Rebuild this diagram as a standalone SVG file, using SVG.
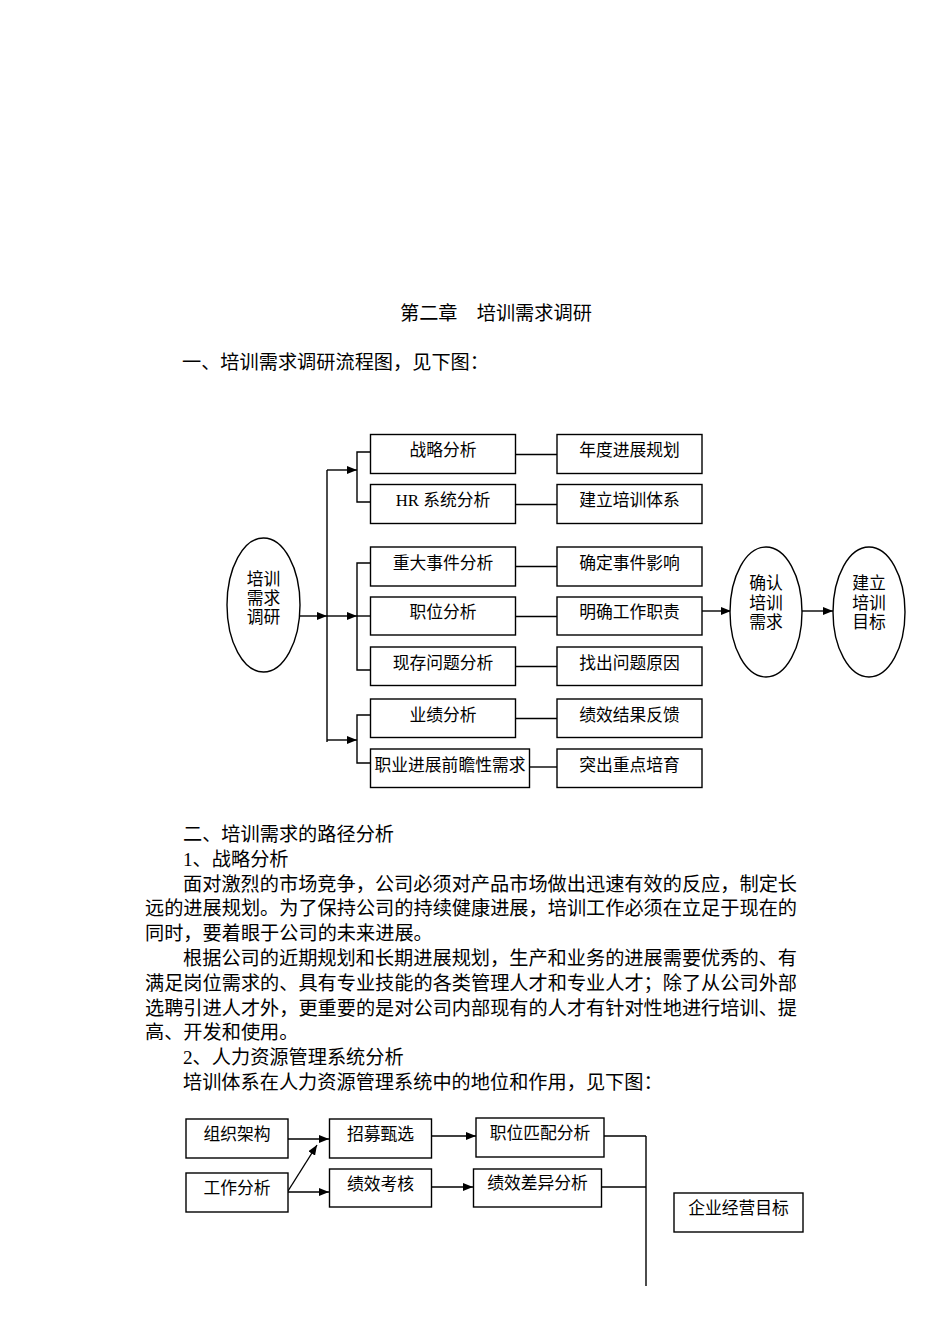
<svg xmlns="http://www.w3.org/2000/svg" width="950" height="1344" viewBox="0 0 950 1344">
<style>
text{font-family:'Liberation Serif','Noto Sans CJK SC',serif;fill:#000}
.body{font-size:19.2px}
.lbl{font-size:16.8px;text-anchor:middle}
.box{fill:#fff;stroke:#000;stroke-width:1.4}
.ln{fill:none;stroke:#000;stroke-width:1.4}
.ar{marker-end:url(#arr)}
</style>
<defs>
<marker id="arr" markerUnits="userSpaceOnUse" markerWidth="10" markerHeight="8" refX="10" refY="4" orient="auto">
<path d="M0,0 L10,4 L0,8 z" fill="#000"/>
</marker>
</defs>
<rect width="950" height="1344" fill="#fff"/>

<g id="page-text">
<text class="body" x="400" y="319.5">第二章　培训需求调研</text>
<text class="body" x="182" y="368.5">一、培训需求调研流程图，见下图：</text>
<text class="body" x="183" y="841">二、培训需求的路径分析</text>
<text class="body" x="183" y="865.8">1、战略分析</text>
<text class="body" x="183" y="890.6" textLength="614" lengthAdjust="spacing">面对激烈的市场竞争，公司必须对产品市场做出迅速有效的反应，制定长</text>
<text class="body" x="145" y="915.4" textLength="652" lengthAdjust="spacing">远的进展规划。为了保持公司的持续健康进展，培训工作必须在立足于现在的</text>
<text class="body" x="145" y="940.2">同时，要着眼于公司的未来进展。</text>
<text class="body" x="183" y="965" textLength="614" lengthAdjust="spacing">根据公司的近期规划和长期进展规划，生产和业务的进展需要优秀的、有</text>
<text class="body" x="145" y="989.8" textLength="652" lengthAdjust="spacing">满足岗位需求的、具有专业技能的各类管理人才和专业人才；除了从公司外部</text>
<text class="body" x="145" y="1014.6" textLength="652" lengthAdjust="spacing">选聘引进人才外，更重要的是对公司内部现有的人才有针对性地进行培训、提</text>
<text class="body" x="145" y="1039.4">高、开发和使用。</text>
<text class="body" x="183" y="1064.2">2、人力资源管理系统分析</text>
<text class="body" x="183" y="1089">培训体系在人力资源管理系统中的地位和作用，见下图：</text>
</g>

<g id="connectors1">
<line class="ln ar" x1="300" y1="616" x2="327" y2="616"/>
<line class="ln" x1="327" y1="470" x2="327" y2="742"/>
<line class="ln ar" x1="327" y1="470" x2="357" y2="470"/>
<line class="ln ar" x1="327" y1="616" x2="357" y2="616"/>
<line class="ln ar" x1="327" y1="740" x2="357" y2="740"/>
<polyline class="ln" points="370,452 357,452 357,502 370,502"/>
<polyline class="ln" points="370,563 357,563 357,670 370,670"/>
<line class="ln" x1="357" y1="616" x2="370" y2="616"/>
<polyline class="ln" points="370,715 357,715 357,763 370,763"/>
<line class="ln" x1="515" y1="454.5" x2="557" y2="454.5"/>
<line class="ln" x1="515" y1="504.5" x2="557" y2="504.5"/>
<line class="ln" x1="515" y1="566.5" x2="557" y2="566.5"/>
<line class="ln" x1="515" y1="616.5" x2="557" y2="616.5"/>
<line class="ln" x1="515" y1="666.5" x2="557" y2="666.5"/>
<line class="ln" x1="515" y1="718.5" x2="557" y2="718.5"/>
<line class="ln" x1="529" y1="767" x2="557" y2="767"/>
<line class="ln ar" x1="702" y1="611" x2="731" y2="611"/>
<line class="ln ar" x1="802" y1="611" x2="833" y2="611"/>
</g>

<g id="n-peixun">
<ellipse class="box" cx="263.5" cy="605" rx="36.5" ry="67"/>
<text class="lbl" x="263.5" y="585">培训</text>
<text class="lbl" x="263.5" y="604">需求</text>
<text class="lbl" x="263.5" y="623">调研</text>
</g>
<g id="n-zhanlue"><rect class="box" x="370.5" y="434.5" width="145" height="39"/><text class="lbl" x="443" y="456">战略分析</text></g>
<g id="n-hr"><rect class="box" x="370.5" y="484.5" width="145" height="39"/><text class="lbl" x="443" y="506">HR 系统分析</text></g>
<g id="n-zhongda"><rect class="box" x="370.5" y="547" width="145" height="39"/><text class="lbl" x="443" y="568.5">重大事件分析</text></g>
<g id="n-zhiwei"><rect class="box" x="370.5" y="597" width="145" height="38"/><text class="lbl" x="443" y="618">职位分析</text></g>
<g id="n-xiancun"><rect class="box" x="370.5" y="647" width="145" height="38.5"/><text class="lbl" x="443" y="668.5">现存问题分析</text></g>
<g id="n-yeji"><rect class="box" x="370.5" y="699" width="145" height="38.5"/><text class="lbl" x="443" y="720.5">业绩分析</text></g>
<g id="n-zhiye"><rect class="box" x="370.5" y="749" width="159" height="38.5"/><text class="lbl" x="450" y="770.5">职业进展前瞻性需求</text></g>

<g id="n-niandu"><rect class="box" x="557" y="434.5" width="145" height="39"/><text class="lbl" x="629.5" y="456">年度进展规划</text></g>
<g id="n-jianli"><rect class="box" x="557" y="484.5" width="145" height="39"/><text class="lbl" x="629.5" y="506">建立培训体系</text></g>
<g id="n-queding"><rect class="box" x="557" y="547" width="145" height="39"/><text class="lbl" x="629.5" y="568.5">确定事件影响</text></g>
<g id="n-mingque"><rect class="box" x="557" y="597" width="145" height="38"/><text class="lbl" x="629.5" y="618">明确工作职责</text></g>
<g id="n-zhaochu"><rect class="box" x="557" y="647" width="145" height="38.5"/><text class="lbl" x="629.5" y="668.5">找出问题原因</text></g>
<g id="n-jixiao"><rect class="box" x="557" y="699" width="145" height="38.5"/><text class="lbl" x="629.5" y="720.5">绩效结果反馈</text></g>
<g id="n-tuchu"><rect class="box" x="557" y="749" width="145" height="38.5"/><text class="lbl" x="629.5" y="770.5">突出重点培育</text></g>

<g id="n-queren">
<ellipse class="box" cx="766" cy="612" rx="36" ry="65"/>
<text class="lbl" x="766" y="589">确认</text>
<text class="lbl" x="766" y="609">培训</text>
<text class="lbl" x="766" y="628">需求</text>
</g>
<g id="n-mubiao">
<ellipse class="box" cx="869" cy="612" rx="36" ry="65"/>
<text class="lbl" x="869" y="589">建立</text>
<text class="lbl" x="869" y="609">培训</text>
<text class="lbl" x="869" y="628">目标</text>
</g>

<g id="connectors2">
<line class="ln ar" x1="288" y1="1139" x2="329" y2="1139"/>
<line class="ln ar" x1="288" y1="1191" x2="317" y2="1145"/>
<line class="ln ar" x1="288" y1="1192" x2="329" y2="1192"/>
<line class="ln ar" x1="431" y1="1136" x2="476" y2="1136"/>
<line class="ln ar" x1="431" y1="1187" x2="473" y2="1187"/>
<line class="ln" x1="604" y1="1136" x2="646" y2="1136"/>
<line class="ln" x1="602" y1="1187" x2="646" y2="1187"/>
<line class="ln" x1="646" y1="1136" x2="646" y2="1286"/>
</g>

<g id="n-zuzhi"><rect class="box" x="186" y="1119" width="102" height="39"/><text class="lbl" x="237" y="1139.5">组织架构</text></g>
<g id="n-gongzuo"><rect class="box" x="186" y="1173" width="102" height="39"/><text class="lbl" x="237" y="1194">工作分析</text></g>
<g id="n-zhaomu"><rect class="box" x="329.5" y="1119" width="102" height="39"/><text class="lbl" x="380.5" y="1140">招募甄选</text></g>
<g id="n-kaohe"><rect class="box" x="329.5" y="1169" width="102" height="38"/><text class="lbl" x="380.5" y="1190">绩效考核</text></g>
<g id="n-pipei"><rect class="box" x="476" y="1118" width="128" height="39"/><text class="lbl" x="540" y="1139">职位匹配分析</text></g>
<g id="n-chayi"><rect class="box" x="473.5" y="1169" width="128" height="38"/><text class="lbl" x="537.5" y="1189">绩效差异分析</text></g>
<g id="n-qiye"><rect class="box" x="674" y="1193" width="129" height="39"/><text class="lbl" x="738.5" y="1214">企业经营目标</text></g>
</svg>
